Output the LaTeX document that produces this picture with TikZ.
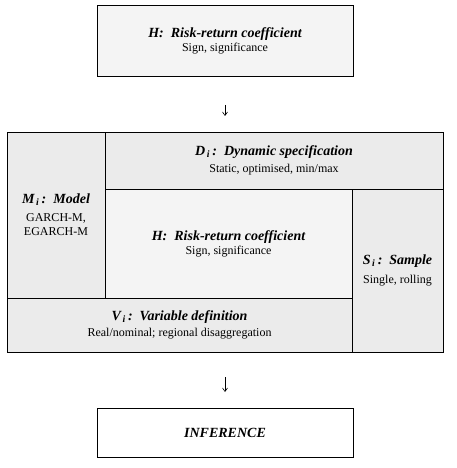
\documentclass[tikz,border=0pt]{standalone}
\usepackage{fontspec}
\setmainfont{Liberation Serif}
\usetikzlibrary{arrows.meta}
\definecolor{panelgray}{HTML}{EBEBEB}
\definecolor{coregray}{HTML}{F4F4F4}
\tikzset{
  panel/.style={draw, line width=0.9pt, fill=#1, inner sep=0pt, align=center,
    font=\fontsize{12}{14}\selectfont},
  panel/.default=panelgray,
  flow/.style={-{Straight Barb[length=3.5pt,width=5pt]}, line width=0.6pt},
}
\newcommand{\boxhead}[1]{{\fontsize{14}{14}\selectfont\bfseries\itshape #1}}
\begin{document}
\begin{tikzpicture}[x=1pt,y=-1pt]
  \useasboundingbox (0,0) rectangle (456,468);
  % hypothesis
  \node[panel=coregray, minimum width=256pt, minimum height=71pt] (top) at (225,40.5)
    {\boxhead{H:\ \ Risk-return coefficient}\\ Sign, significance};
  \coordinate (a1s) at (225,105);
  \coordinate (a1e) at (225,116);
  \draw[flow] (a1s) -- (a1e);
  % test frame
  \node[panel, minimum width=98pt, minimum height=166pt] (model) at (56,215)
    {\boxhead{M\textsubscript{\,i}\,:\ \ Model}\\[4pt] GARCH-M,\\ EGARCH-M};
  \node[panel, minimum width=338pt, minimum height=57pt] (dyn) at (274,160.5)
    {\boxhead{D\textsubscript{\,i}\,:\ \ Dynamic specification}\\[3pt] Static, optimised, min/max};
  \node[panel=coregray, minimum width=247pt, minimum height=109pt] (core) at (228.5,243.5)
    {\boxhead{H:\ \ Risk-return coefficient}\\ Sign, significance};
  \node[panel, minimum width=91pt, minimum height=163pt] (sample) at (397.5,270.5)
    {\boxhead{S\textsubscript{\,i}\,:\ \ Sample}\\[5pt] Single, rolling};
  \node[panel, minimum width=345pt, minimum height=54pt] (var) at (179.5,325)
    {\boxhead{V\textsubscript{\,i}\,:\ \ Variable definition}\\[2pt] Real/nominal; regional disaggregation};
  \coordinate (a2s) at (225,377);
  \coordinate (a2e) at (225,392);
  \draw[flow] (a2s) -- (a2e);
  % conclusion
  \node[panel=white, minimum width=256pt, minimum height=49pt] (inf) at (225,432.5)
    {\boxhead{INFERENCE}};
\end{tikzpicture}
\end{document}
